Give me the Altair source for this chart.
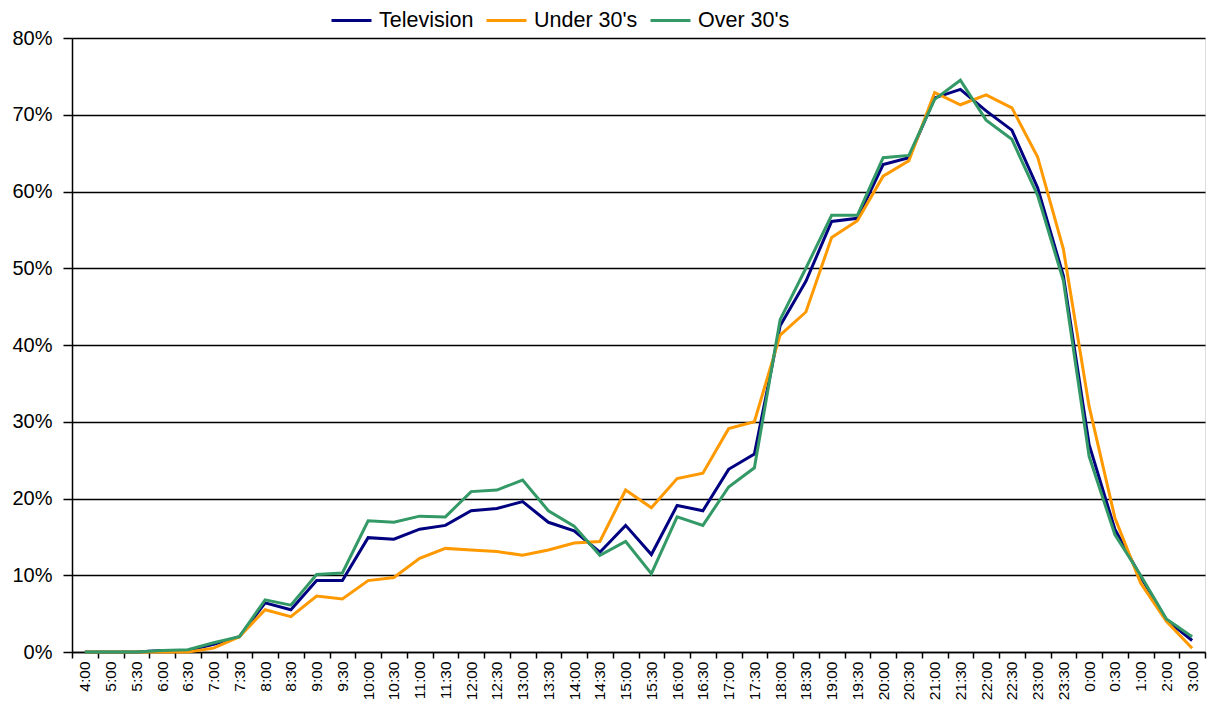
import altair as alt
import pandas as pd

times = ["4:00", "5:00", "5:30", "6:00", "6:30", "7:00", "7:30", "8:00", "8:30", "9:00",
         "9:30", "10:00", "10:30", "11:00", "11:30", "12:00", "12:30", "13:00", "13:30", "14:00",
         "14:30", "15:00", "15:30", "16:00", "16:30", "17:00", "17:30", "18:00", "18:30", "19:00",
         "19:30", "20:00", "20:30", "21:00", "21:30", "22:00", "22:30", "23:00", "23:30", "0:00",
         "0:30", "1:00", "2:00", "3:00"]

television = [0.0, 0.0, 0.0, 0.2, 0.2, 1.0, 2.0, 6.4, 5.5, 9.3,
              9.3, 14.9, 14.7, 16.0, 16.5, 18.4, 18.7, 19.6, 16.9, 15.8,
              13.0, 16.5, 12.7, 19.1, 18.4, 23.8, 25.8, 42.5, 48.3, 56.1,
              56.5, 63.5, 64.4, 72.2, 73.3, 70.5, 68.0, 60.5, 49.0, 27.0,
              16.0, 9.8, 4.2, 1.5]

under30 = [0.0, 0.0, 0.0, 0.0, 0.0, 0.5, 2.0, 5.5, 4.6, 7.3,
           6.9, 9.3, 9.7, 12.2, 13.5, 13.3, 13.1, 12.6, 13.3, 14.2,
           14.4, 21.1, 18.8, 22.6, 23.3, 29.1, 30.0, 41.3, 44.3, 54.0,
           56.2, 62.0, 64.0, 72.9, 71.3, 72.6, 70.9, 64.5, 52.5, 32.0,
           17.5, 9.0, 4.0, 0.5]

over30 = [0.0, 0.0, 0.0, 0.2, 0.3, 1.2, 2.0, 6.8, 6.1, 10.1,
          10.3, 17.1, 16.9, 17.7, 17.6, 20.9, 21.1, 22.4, 18.4, 16.4,
          12.6, 14.4, 10.2, 17.6, 16.5, 21.5, 24.0, 43.3, 50.0, 56.9,
          56.9, 64.4, 64.7, 72.0, 74.5, 69.3, 66.8, 59.5, 48.4, 25.5,
          15.3, 10.0, 4.3, 2.0]

series_names = ["Television", "Under 30's", "Over 30's"]
series_colors = ["#000080", "#FF9900", "#339966"]

rows = []
for name, vals in zip(series_names, [television, under30, over30]):
    for i, (t, v) in enumerate(zip(times, vals)):
        rows.append({"time": t, "value": v / 100.0, "series": name, "order": i})
df = pd.DataFrame(rows)

chart = alt.Chart(df).mark_line(strokeWidth=3).encode(
    x=alt.X("time:N", sort=times, bandPosition=0.5,
            scale=alt.Scale(type="band", paddingInner=0, paddingOuter=0),
            axis=alt.Axis(title=None, labelAngle=-90, tickBand="extent", grid=False,
                          labelFontSize=15.5, labelFont="Liberation Sans", labelColor="#000000",
                          domainColor="#000000", domainWidth=1.5, tickColor="#000000",
                          tickWidth=1.5, tickSize=6, labelPadding=3)),
    y=alt.Y("value:Q", scale=alt.Scale(domain=[0, 0.8], nice=False),
            axis=alt.Axis(title=None, format=".0%", values=[0, 0.1, 0.2, 0.3, 0.4, 0.5, 0.6, 0.7, 0.8],
                          labelFontSize=20, labelFont="Liberation Sans", labelColor="#000000",
                          domainColor="#000000", domainWidth=1.5, tickColor="#000000",
                          tickWidth=1.5, tickSize=9, labelPadding=11,
                          grid=True, gridColor="#000000", gridWidth=1.4)),
    color=alt.Color("series:N", sort=series_names,
                    scale=alt.Scale(domain=series_names, range=series_colors),
                    legend=alt.Legend(title=None, orient="none", direction="horizontal",
                                      legendX=258, legendY=-39, padding=0,
                                      symbolType="stroke", symbolSize=1600, symbolStrokeWidth=3,
                                      labelFontSize=21.5, labelFont="Liberation Sans",
                                      labelColor="#000000", labelOffset=6, columnPadding=6)),
    order=alt.Order("order:Q"),
).properties(
    width=1133, height=614,
    autosize=alt.AutoSizeParams(type="none"),
    padding={"left": 64, "top": 30, "right": 2, "bottom": 50},
).configure_view(stroke=None).configure(background="#ffffff")

chart.save("out.html", embed_options={"renderer": "svg", "actions": False})
